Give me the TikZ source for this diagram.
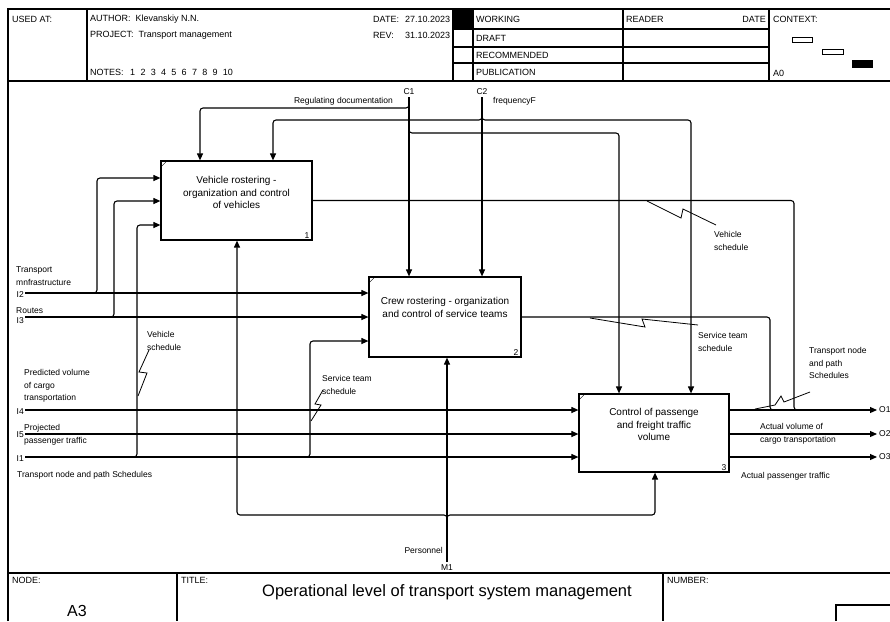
\documentclass[tikz,border=0pt]{standalone}
\usepackage{fontspec}
\setmainfont{Liberation Sans}
\usepackage{tikz}
\usetikzlibrary{positioning,calc,arrows.meta}

\tikzstyle{func} = [rectangle, draw=black, line width=1.2pt, fill=white, inner sep=0pt]
\tikzstyle{functext} = [align=center, inner sep=0pt, font=\fontsize{10}{12.5}\selectfont]
\tikzstyle{boxnum} = [inner sep=0pt, font=\fontsize{8.5}{10}\selectfont]
\tikzstyle{lbl} = [inner sep=0pt, align=left, font=\fontsize{8.5}{12.5}\selectfont]
\tikzstyle{hdr} = [inner sep=0pt, anchor=west, font=\fontsize{9}{10}\selectfont]
\tikzstyle{flow} = [line width=1.1pt, -{Triangle[length=7pt,width=6pt]}]
\tikzstyle{wire} = [line width=1.1pt]
\tikzstyle{squig} = [line width=0.8pt]
\tikzstyle{frame} = [line width=1.8pt]
\tikzstyle{grid} = [line width=1.2pt]

\begin{document}
\begin{tikzpicture}[x=1pt,y=-1pt]
\useasboundingbox (0,0) rectangle (890,621);

% Frame and header
\draw[frame] (8,621) -- (8,9) -- (890,9);
\draw[grid] (8,81) -- (890,81);
\draw[grid] (8,573) -- (890,573);
\draw[grid] (87,9) -- (87,81);
\draw[grid] (453,9) -- (453,81);
\draw[grid] (473,9) -- (473,81);
\draw[grid] (623,9) -- (623,81);
\draw[grid] (769,9) -- (769,81);
\foreach \y in {29,47,63} \draw[grid] (453,\y) -- (769,\y);
\draw[grid] (177,573) -- (177,621);
\draw[grid] (663,573) -- (663,621);
\draw[grid] (836,621) -- (836,605) -- (890,605);

\node[hdr] at (12,19) {USED AT:};
\node[hdr] at (90,19) {AUTHOR:\ \ Klevanskiy N.N.};
\node[hdr] at (90,35) {PROJECT:\ \ Transport management};
\node[hdr] at (90,72) {NOTES:};
\foreach \n in {1,...,10} \node[hdr] at (130+10.3*\n-10.3,72) {\n};
\node[hdr] at (373,19) {DATE:};
\node[hdr] at (405,19) {27.10.2023};
\node[hdr] at (373,35) {REV:};
\node[hdr] at (405,35) {31.10.2023};
\fill (453,9) rectangle (473,29);
\node[hdr] at (476,19) {WORKING};
\node[hdr] at (476,38) {DRAFT};
\node[hdr] at (476,55) {RECOMMENDED};
\node[hdr] at (476,72) {PUBLICATION};
\node[hdr] at (626,19) {READER};
\node[hdr, anchor=east] at (766,19) {DATE};
\node[hdr] at (773,19) {CONTEXT:};
\node[hdr] at (773,73) {A0};
\draw[line width=1pt] (792,37) rectangle (812,42);
\draw[line width=1pt] (822,49) rectangle (843,54);
\fill (852,60) rectangle (873,68);

% Footer
\node[hdr] at (12,580) {NODE:};
\node[hdr] at (181,580) {TITLE:};
\node[hdr] at (667,580) {NUMBER:};
\node[inner sep=0pt, font=\fontsize{16.5}{18}\selectfont] at (447,592) {Operational level of transport system management};
\node[inner sep=0pt, font=\fontsize{16}{18}\selectfont] at (77,611) {A3};

% Functions
\node (b1) [func, minimum width=151pt, minimum height=79pt] at (236.5,200.5) {};
\node (b2) [func, minimum width=152pt, minimum height=80pt] at (445,317) {};
\node (b3) [func, minimum width=150pt, minimum height=78pt] at (654,433) {};
\node (t1) [functext, below=16pt of b1.north] {Vehicle rostering -\\organization and control\\of vehicles};
\node (t2) [functext, below=21pt of b2.north] {Crew rostering - organization\\and control of service teams};
\node (t3) [functext, below=15pt of b3.north] {Control of passenge\\and freight traffic\\volume};
\node[boxnum, anchor=south east] at ($(b1.south east)+(-3,-2)$) {1};
\node[boxnum, anchor=south east] at ($(b2.south east)+(-3,-2)$) {2};
\node[boxnum, anchor=south east] at ($(b3.south east)+(-3,-2)$) {3};
\draw[thin] ($(b1.north west)+(0,7)$) -- ($(b1.north west)+(7,0)$);
\draw[thin] ($(b2.north west)+(0,7)$) -- ($(b2.north west)+(7,0)$);
\draw[thin] ($(b3.north west)+(0,7)$) -- ($(b3.north west)+(7,0)$);

% Boundary points
\coordinate (I1) at (25,457);
\coordinate (I2) at (25,293);
\coordinate (I3) at (25,317);
\coordinate (I4) at (25,410);
\coordinate (I5) at (25,434);
\coordinate (C1) at (409,97);
\coordinate (C2) at (482,97);
\coordinate (M1) at (447,562);
\coordinate (O1) at (877,410);
\coordinate (O2) at (877,434);
\coordinate (O3) at (877,457);

% Inputs
\draw[flow] (I2) -- (b2.west |- I2);
\draw[flow] (I3) -- (b2.west |- I3);
\draw[flow] (I4) -- (b3.west |- I4);
\draw[flow] (I5) -- (b3.west |- I5);
\draw[flow] (I1) -- (b3.west |- I1);
\draw[flow, rounded corners=3pt] (I2 -| 91,0) -| (97,178) -- (b1.west |- 0,178);
\draw[flow, rounded corners=3pt] (I3 -| 108,0) -| (114,201) -- (b1.west |- 0,201);
\draw[flow, rounded corners=3pt] (I1 -| 131,0) -| (137,225) -- (b1.west |- 0,225);
\draw[flow, rounded corners=3pt] (I1 -| 304,0) -| (310,341) -- (b2.west |- 0,341);

% Controls
\draw[flow] (C1) -- (b2.north -| C1);
\draw[flow] (C2) -- (b2.north -| C2);
\draw[flow, rounded corners=3pt] (C1 |- 0,102) |- (200,108) -- (b1.north -| 200,0);
\draw[flow, rounded corners=3pt] (C1 |- 0,127) |- (619,133) -- (b3.north -| 619,0);
\draw[flow, rounded corners=3pt] (C2 |- 0,114) |- (273,120) -- (b1.north -| 273,0);
\draw[flow, rounded corners=3pt] (C2 |- 0,114) |- (691,120) -- (b3.north -| 691,0);

% Mechanisms
\draw[flow] (M1) -- (b2.south -| M1);
\draw[flow, rounded corners=3pt] (M1 |- 0,521) |- (237,515) -- (b1.south -| 237,0);
\draw[flow, rounded corners=3pt] (M1 |- 0,521) |- (655,515) -- (b3.south -| 655,0);

% Outputs
\draw[flow] (b3.east |- O1) -- (O1);
\draw[flow] (b3.east |- O2) -- (O2);
\draw[flow] (b3.east |- O3) -- (O3);
\draw[wire, rounded corners=3pt] (b1.east) -| (794,410) -- (800,410);
\draw[wire, rounded corners=3pt] (b2.east) -| (770,410) -- (776,410);

% Squiggles
\draw[squig] (647,201) -- (681,218) -- (683,209) -- (716,225);
\draw[squig] (590,318) -- (645,327) -- (642,319) -- (698,325);
\draw[squig] (755,409) -- (775,405) -- (781,396) -- (784,402) -- (810,392);
\draw[squig] (149,350) -- (139,372) -- (147,373) -- (138,396);
\draw[squig] (323,390) -- (315,404) -- (321,405) -- (311,421);

% Labels
\node[lbl, left=1pt of I2, yshift=-2pt] {I2};
\node[lbl, left=1pt of I3, yshift=-4pt] {I3};
\node[lbl, left=1pt of I4, yshift=-2pt] {I4};
\node[lbl, left=1pt of I5, yshift=-1pt] {I5};
\node[lbl, left=1pt of I1, yshift=-2pt] {I1};
\node[lbl, anchor=west] at (16,276) {Transport\\mnfrastructure};
\node[lbl, anchor=west] at (16,311) {Routes};
\node[lbl, anchor=west] at (24,386) {Predicted volume\\of cargo\\transportation};
\node[lbl, anchor=west] at (24,435) {Projected\\passenger traffic};
\node[lbl, anchor=west] at (17,475) {Transport node and path Schedules};
\node[lbl, anchor=west] at (147,341) {Vehicle\\schedule};
\node[lbl, anchor=west] at (322,385) {Service team\\schedule};
\node[lbl, above=2pt of C1] {C1};
\node[lbl, above=2pt of C2] {C2};
\node[lbl, anchor=east] at (393,101) {Regulating documentation};
\node[lbl, anchor=west] at (493,101) {frequencyF};
\node[lbl, anchor=west] at (714,241) {Vehicle\\schedule};
\node[lbl, anchor=west] at (698,342) {Service team\\schedule};
\node[lbl, anchor=west] at (809,363) {Transport node\\and path\\Schedules};
\node[lbl, anchor=west] at (760,434) {Actual volume of\\cargo transportation};
\node[lbl, anchor=west] at (741,476) {Actual passenger traffic};
\node[lbl, right=2pt of O1] {O1};
\node[lbl, right=2pt of O2] {O2};
\node[lbl, right=2pt of O3] {O3};
\node[lbl, anchor=east] at (443,550) {Personnel};
\node[lbl, below=2pt of M1] {M1};

\end{tikzpicture}
\end{document}
